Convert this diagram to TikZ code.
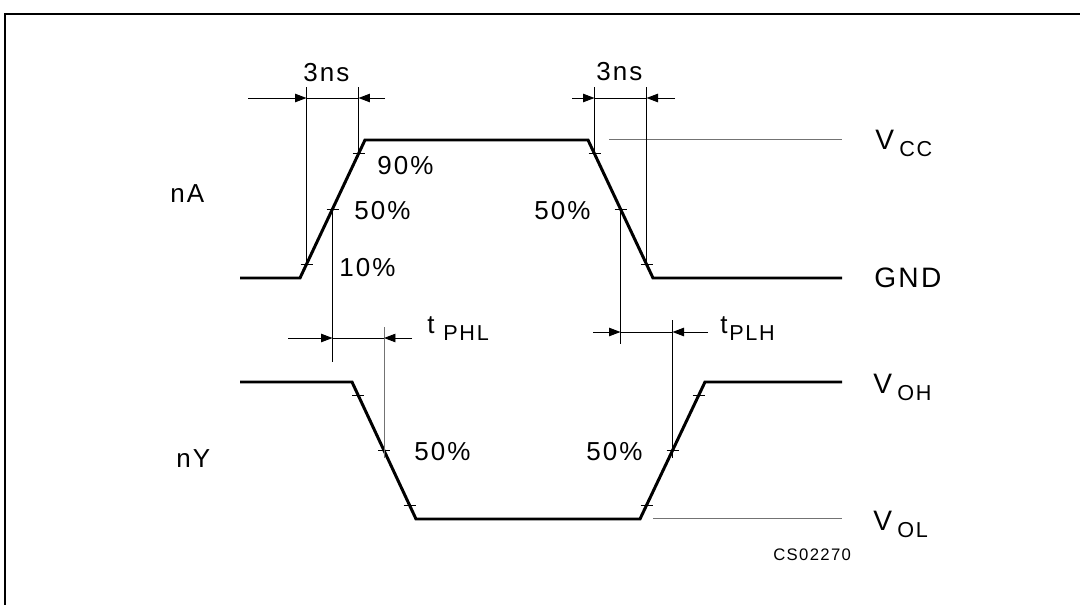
\documentclass[tikz,border=0pt]{standalone}
\usepackage{fontspec}
\setmainfont{Liberation Sans}[LetterSpace=8]
\usetikzlibrary{arrows.meta,calc}

\tikzset{
    signal/.style={line width=1.7pt,line join=miter},
    extline/.style={line width=0.55pt},
    refline/.style={line width=0.55pt,black!55},
    tickline/.style={line width=0.5pt},
    dimarrow/.style={line width=0.55pt,-{Triangle[length=2.3mm,width=1.7mm]}},
    lbl/.style={anchor=base west,inner sep=0pt,font=\fontsize{14.8}{16}\selectfont},
    lvl/.style={anchor=base west,inner sep=0pt,font=\fontsize{16}{18}\selectfont},
}
\newcommand{\lowsub}[2]{\hspace{#1}\raisebox{-4.2pt}{\fontsize{12.3}{14}\selectfont #2}}
\newcommand{\tickat}[1]{\draw[tickline] ($(#1)+(-6,0)$) -- ($(#1)+(6,0)$);}

\begin{document}
\begin{tikzpicture}[x=0.02cm,y=-0.02cm]
                \useasboundingbox (0,0) rectangle (1080,605);
                % frame
                \draw[line width=1.1pt]
                    (5,605) -- (5,14) -- (1080,14);
                % corner points of the two waveforms
                \coordinate (a1) at (300,278);
                \coordinate (a2) at (365,140);
                \coordinate (a3) at (588,140);
                \coordinate (a4) at (653,278);
                \coordinate (y1) at (352,382);
                \coordinate (y2) at (416,519);
                \coordinate (y3) at (640,519);
                \coordinate (y4) at (705,382);
                \coordinate (a10) at ($(a1)!0.1!(a2)$);
                \coordinate (a50) at ($(a1)!0.5!(a2)$);
                \coordinate (a90) at ($(a1)!0.9!(a2)$);
                \coordinate (b90) at ($(a3)!0.1!(a4)$);
                \coordinate (b50) at ($(a3)!0.5!(a4)$);
                \coordinate (b10) at ($(a3)!0.9!(a4)$);
                \coordinate (c90) at ($(y1)!0.1!(y2)$);
                \coordinate (c50) at ($(y1)!0.5!(y2)$);
                \coordinate (c10) at ($(y1)!0.9!(y2)$);
                \coordinate (d10) at ($(y3)!0.1!(y4)$);
                \coordinate (d50) at ($(y3)!0.5!(y4)$);
                \coordinate (d90) at ($(y3)!0.9!(y4)$);
                % waveforms
                \draw[signal]
                    (240,278) -- (a1) -- (a2) -- (a3) -- (a4) -- (842,278);
                \draw[signal]
                    (240,382) -- (y1) -- (y2) -- (y3) -- (y4) -- (842,382);
                \draw[refline]
                    (609,139) -- (842,139);
                \draw[refline]
                    (653,518) -- (842,518);
                % level ticks
                \foreach \p in {a10,a50,a90,b10,b50,b90,c10,c50,c90,d10,d50,d90}
                    \tickat{\p}
                % extension lines
                \draw[extline] (a10) -- (a10 |- 0,87);
                \draw[extline] (a90) -- (a90 |- 0,87);
                \draw[extline] (b90) -- (b90 |- 0,87);
                \draw[extline] (b10) -- (b10 |- 0,87);
                \draw[extline] (a50) -- (a50 |- 0,362);
                \draw[extline] (b50) -- (b50 |- 0,344);
                \draw[refline] ($(c50)+(0,7)$) -- (c50 |- 0,327);
                \draw[extline] ($(d50)+(0,7)$) -- (d50 |- 0,320);
                % dimension arrows
                \draw[dimarrow] (248,98) -- (a10 |- 0,98);
                \draw[extline] (a10 |- 0,98) -- (a90 |- 0,98);
                \draw[dimarrow] (385,98) -- (a90 |- 0,98);
                \draw[dimarrow] (572,98) -- (b90 |- 0,98);
                \draw[extline] (b90 |- 0,98) -- (b10 |- 0,98);
                \draw[dimarrow] (675,98) -- (b10 |- 0,98);
                \draw[dimarrow] (288,338) -- (a50 |- 0,338);
                \draw[extline] (a50 |- 0,338) -- (c50 |- 0,338);
                \draw[dimarrow] (412,338) -- (c50 |- 0,338);
                \draw[dimarrow] (593,332) -- (b50 |- 0,332);
                \draw[extline] (b50 |- 0,332) -- (d50 |- 0,332);
                \draw[dimarrow] (708,332) -- (d50 |- 0,332);
                % labels
                \node[lbl] (ns1) at (303,81) {3ns};
                \node[lbl] (ns2) at (596,80) {3ns};
                \node[lbl] (p90) at (377,174) {90\%};
                \node[lbl] (p50a) at (354,219) {50\%};
                \node[lbl] (p10) at (339,276) {10\%};
                \node[lbl] (p50b) at (534,219) {50\%};
                \node[lbl] (p50c) at (414,460) {50\%};
                \node[lbl] (p50d) at (586,460) {50\%};
                \node[lbl] (na) at (170,202) {nA};
                \node[lbl] (ny) at (176,467) {nY};
                \node[lbl] (tphl) at (427,333) {t\lowsub{5pt}{PHL}};
                \node[lbl] (tplh) at (720,333) {t\lowsub{1pt}{PLH}};
                \node[lvl] (vcc) at (875,149) {V\lowsub{3pt}{CC}};
                \node[lvl] (gnd) at (874,287) {GND};
                \node[lvl] (voh) at (873,393) {V\lowsub{3pt}{OH}};
                \node[lvl] (vol) at (873,530) {V\lowsub{3pt}{OL}};
                \node[anchor=base west,inner sep=0pt,font=\fontsize{9.5}{11}\selectfont]
                    (code) at (773,560) {CS02270};
            \end{tikzpicture}
\end{document}
